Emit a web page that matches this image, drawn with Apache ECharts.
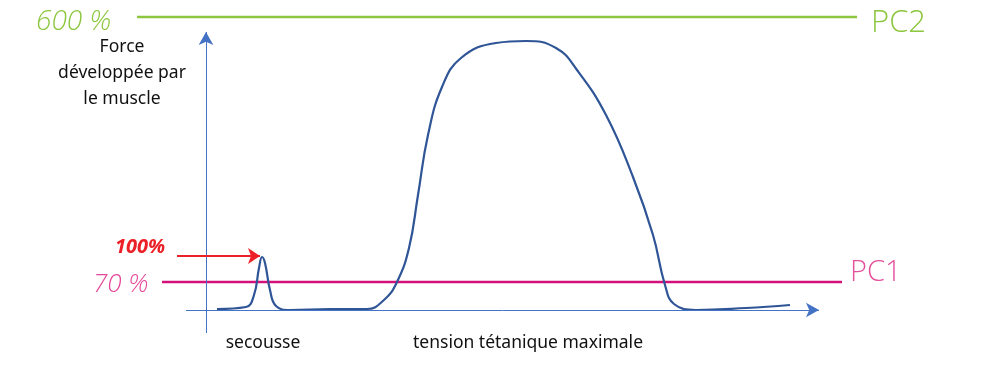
<!DOCTYPE html>
<html>
<head>
<meta charset="utf-8">
<script src="https://cdn.jsdelivr.net/npm/echarts@6/dist/echarts.min.js"></script>
<style>html,body{margin:0;padding:0;background:#fff}#c{width:1000px;height:376px}</style>
</head>
<body>
<div id="c"></div>
<script>
// Curve (time units, force units)
const curveX = [11,40,48,53,56,59,64,70,84,124,161,178,191,203,212,222,236,255,290,320,350,371,400,427,447,459,468,490,540,584];
const curveY = [1,3,15,42,53,47,20,4,0,1,1,10,28,62,115,175,223,252,267,269,262,240,195,133,75,25,6,0,2,5];
// Reference levels
const levelNames = ['PC2','PC1','100%'];
const levelValues = [293, 28, 54];
const levelLabels = ['600 %','70 %','100%'];
// Axis extents
const xAxisRange = [-20, 613];
const yAxisRange = [-23, 278];
// Level line extents (x)
const pc2Range = [-69, 651];
const pc1Range = [-44, 636];
const arrowRange = [-29, 54];
const axisTitles = ['Force\ndéveloppée par\nle muscle', 'secousse', 'tension tétanique maximale'];

const chart = echarts.init(document.getElementById('c'));
const curve = curveX.map((x,i)=>[x, curveY[i]]);
const hline = (r,y,color,w)=>({type:'line',data:[[r[0],y],[r[1],y]],showSymbol:false,silent:true,clip:false,
  lineStyle:{color:color,width:w},itemStyle:{color:color}});
chart.setOption({
  animation:false,
  grid:{left:106,right:64,top:10,bottom:36},
  xAxis:{type:'value',min:-100,max:730,show:false},
  yAxis:{type:'value',min:-30,max:300,show:false},
  series:[
    {type:'line',data:[],silent:true,
     markLine:{silent:true,symbol:['none','arrow'],symbolSize:[11,13],
       lineStyle:{color:'#4472c4',width:1,type:'solid'},label:{show:false},
       data:[
         [{coord:[xAxisRange[0],0]},{coord:[xAxisRange[1],0]}],
         [{coord:[0,yAxisRange[0]]},{coord:[0,yAxisRange[1]]}]
       ]}},
    hline(pc2Range, levelValues[0], '#8dc63f', 2.5),
    hline(pc1Range, levelValues[1], '#d4107a', 2.5),
    {type:'line',data:[],silent:true,
     markLine:{silent:true,symbol:['none','arrow'],symbolSize:[12,12],label:{show:false},
       lineStyle:{color:'#ec2027',width:2,type:'solid'},
       data:[[{coord:[arrowRange[0],levelValues[2]]},{coord:[arrowRange[1],levelValues[2]]}]]}},
    {type:'line',data:curve,smooth:0.45,showSymbol:false,silent:true,
     lineStyle:{color:'#2f5597',width:2.2}}
  ],
  graphic:[
    {type:'text',left:36,top:8,style:{text:levelLabels[0],fill:'#8dc63f',font:'300 italic 28px "Open Sans"'}},
    {type:'text',left:871,top:8,style:{text:levelNames[0],fill:'#8dc63f',font:'300 31px "Open Sans"'}},
    {type:'text',left:115,top:237,style:{text:levelLabels[2],fill:'#ec2027',font:'bold italic 20px "Open Sans"'}},
    {type:'text',left:93,top:272,style:{text:levelLabels[1],fill:'#e5489a',font:'300 italic 26px "Open Sans"'}},
    {type:'text',left:850,top:258,style:{text:levelNames[1],fill:'#e5509c',font:'300 29px "Open Sans"'}},
    {type:'text',x:122,y:34,style:{text:axisTitles[0],fill:'#111',font:'17.5px "Noto Sans"',align:'center',lineHeight:26}},
    {type:'text',x:263,y:334,style:{text:axisTitles[1],fill:'#111',font:'17.5px "Noto Sans"',align:'center'}},
    {type:'text',x:528,y:334,style:{text:axisTitles[2],fill:'#111',font:'17.5px "Noto Sans"',align:'center'}}
  ]
});
</script>
</body>
</html>
